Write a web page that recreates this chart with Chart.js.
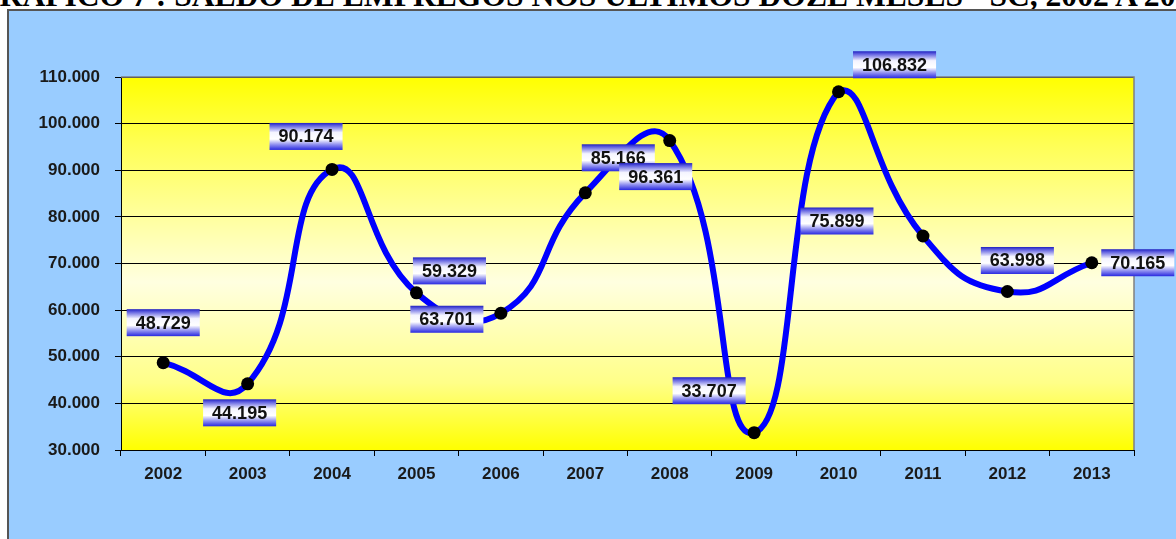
<!DOCTYPE html>
<html>
<head>
<meta charset="utf-8">
<script src="https://cdn.jsdelivr.net/npm/chart.js@4.4.1/dist/chart.umd.min.js"></script>
<style>
    html, body { margin: 0; padding: 0; background: #fff; overflow: hidden; }
    #titulo {
        position: absolute; left: -25px; top: -20px; white-space: nowrap;
        font: bold 31.6px "Liberation Serif", "Times New Roman", serif; line-height: 1; color: #000;
    }
    #moldura {
        position: absolute; left: 7px; top: 9px; width: 1200px; height: 560px;
        background: #99ccff; border: 2px solid #555; box-sizing: border-box;
    }
    #wrap { position: absolute; left: 0; top: 0; width: 1176px; height: 539px; }
</style>
</head>
<body>
<div id="titulo">GRÁFICO 7 : SALDO DE EMPREGOS NOS ÚLTIMOS DOZE MESES - SC, 2002 A 2013</div>
<div id="moldura"></div>
<div id="wrap"><canvas id="grafico"></canvas></div>

<script>
// anos e saldo de empregos nos ultimos doze meses
const anos = ['2002', '2003', '2004', '2005', '2006', '2007', '2008', '2009', '2010', '2011', '2012', '2013'];
const saldo = [48729, 44195, 90174, 63701, 59329, 85166, 96361, 33707, 106832, 75899, 63998, 70165];
// rotulos como aparecem no grafico original (2005 e 2006 trocados la)
const rotulos = ['48.729', '44.195', '90.174', '59.329', '63.701', '85.166', '96.361', '33.707', '106.832', '75.899', '63.998', '70.165'];
const eixoY = { min: 30000, max: 110000, passo: 10000 };

// onde cada caixa de rotulo fica em relacao ao ponto (px)
const deslocRotulos = [[0, -40], [-8, 29], [-26, -33], [33, -22], [-54, 6], [33, -35],
                       [-14, 36], [-45, -42], [56, -27], [-86, -15], [10, -31], [46, 0]];

const fonte = '"Liberation Sans", Arial, sans-serif';

function milhar(v) {
    return String(v).replace(/\B(?=(\d{3})+(?!\d))/g, '.');
}

// fundo amarelo degrade e borda cinza da area de plotagem
const fundoPlugin = {
    id: 'fundo',
    beforeDraw(chart) {
        const { ctx, chartArea: a } = chart;
        const g = ctx.createLinearGradient(0, a.top, 0, a.bottom);
        g.addColorStop(0, '#ffff00');
        g.addColorStop(0.18, '#ffff55');
        g.addColorStop(0.55, '#ffffe0');
        g.addColorStop(0.82, '#ffff88');
        g.addColorStop(1, '#ffff00');
        ctx.save();
        ctx.fillStyle = g;
        ctx.fillRect(a.left, a.top, a.right - a.left, a.bottom - a.top);
        ctx.restore();
    },
    beforeDatasetsDraw(chart) {
        const { ctx, chartArea: a } = chart;
        ctx.save();
        ctx.strokeStyle = '#808080';
        ctx.lineWidth = 1.5;
        ctx.beginPath();
        ctx.moveTo(a.left, a.top);
        ctx.lineTo(a.right, a.top);
        ctx.lineTo(a.right, a.bottom);
        ctx.stroke();
        ctx.restore();
    }
};

// caixinhas azul/branco com os valores
const rotulosPlugin = {
    id: 'rotulos',
    afterDatasetsDraw(chart) {
        const ctx = chart.ctx;
        const pts = chart.getDatasetMeta(0).data;
        ctx.save();
        ctx.font = 'bold 18px ' + fonte;
        ctx.textAlign = 'center';
        ctx.textBaseline = 'middle';
        pts.forEach((p, i) => {
            const cx = p.x + deslocRotulos[i][0];
            const cy = p.y + deslocRotulos[i][1];
            const w = ctx.measureText(rotulos[i]).width + 18;
            const h = 27;
            const x0 = cx - w / 2, y0 = cy - h / 2;
            const g = ctx.createLinearGradient(0, y0, 0, y0 + h);
            g.addColorStop(0, '#2020c0');
            g.addColorStop(0.1, '#6060e0');
            g.addColorStop(0.35, '#f4f4ff');
            g.addColorStop(0.6, '#ffffff');
            g.addColorStop(0.8, '#9090f0');
            g.addColorStop(1, '#2828e0');
            ctx.fillStyle = g;
            ctx.fillRect(x0, y0, w, h);
            ctx.fillStyle = '#111';
            ctx.fillText(rotulos[i], cx, cy + 1);
        });
        ctx.restore();
    }
};

new Chart(document.getElementById('grafico'), {
    type: 'line',
    data: {
        labels: anos,
        datasets: [{
            data: saldo,
            borderColor: '#0000ff',
            borderWidth: 6,
            tension: 0.5,
            fill: false,
            pointRadius: 6.5,
            pointBackgroundColor: '#000',
            pointBorderWidth: 0
        }]
    },
    options: {
        responsive: true,
        maintainAspectRatio: false,
        animation: false,
        layout: { padding: { top: 77, right: 42, left: 0, bottom: 0 } },
        plugins: { legend: { display: false }, tooltip: { enabled: false } },
        scales: {
            x: {
                offset: true,
                grid: { offset: true, drawOnChartArea: false, color: '#000', tickLength: 6 },
                border: { color: '#000', width: 1 },
                ticks: { color: '#1a1a1a', font: { family: fonte, size: 17, weight: 'bold' }, padding: 8, maxRotation: 0, autoSkip: false },
                afterFit(s) { s.height = 89; }
            },
            y: {
                min: eixoY.min,
                max: eixoY.max,
                grid: { color: '#000', lineWidth: 1, tickLength: 6 },
                border: { color: '#000', width: 1 },
                ticks: {
                    stepSize: eixoY.passo,
                    color: '#1a1a1a',
                    font: { family: fonte, size: 17, weight: 'bold' },
                    padding: 15,
                    callback: v => milhar(v)
                },
                afterFit(s) { s.width = 121; }
            }
        }
    },
    plugins: [fundoPlugin, rotulosPlugin]
});
</script>
</body>
</html>
